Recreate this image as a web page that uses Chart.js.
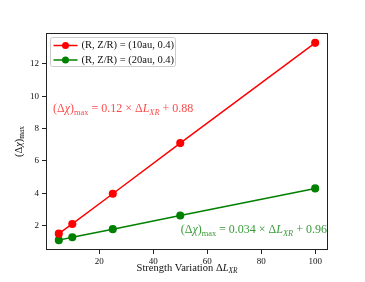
<!DOCTYPE html>
<html lang="en">
<head>
<meta charset="UTF-8">
<title>Strength variation</title>
<script src="https://cdn.jsdelivr.net/npm/chart.js"></script>
<style>
  body { margin: 0; background: #fff; }
  #wrap { width: 365px; height: 282px; }
</style>
</head>
<body>
<div id="wrap"><canvas id="chart" width="365" height="282"></canvas></div>
<script>
// data
var strength = [5, 10, 25, 50, 100];
var chi10au = [1.5, 2.1, 3.97, 7.1, 13.3];
var chi20au = [1.1, 1.28, 1.78, 2.62, 4.3];
var xTicks = [20, 40, 60, 80, 100];
var yTicks = [2, 4, 6, 8, 10, 12];
var seriesLabels = ['(R, Z/R) = (10au, 0.4)', '(R, Z/R) = (20au, 0.4)'];

var FONT = '"Liberation Serif", "DejaVu Serif", serif';

function toPoints(xs, ys) {
    return xs.map(function (x, i) { return { x: x, y: ys[i] }; });
}

// draw text made of pieces: [text, sub?, italic?]
function drawRich(ctx, parts, x, y, align, color, size) {
    ctx.save();
    ctx.fillStyle = color;
    ctx.textBaseline = 'middle';
    ctx.textAlign = 'left';
    var widths = parts.map(function (p) {
        ctx.font = (p[2] ? 'italic ' : '') + (p[1] ? size * 0.7 : size) + 'px ' + FONT;
        return ctx.measureText(p[0]).width;
    });
    var total = widths.reduce(function (a, b) { return a + b; }, 0);
    var cx = align === 'center' ? x - total / 2 : (align === 'right' ? x - total : x);
    parts.forEach(function (p, i) {
        ctx.font = (p[2] ? 'italic ' : '') + (p[1] ? size * 0.7 : size) + 'px ' + FONT;
        ctx.fillText(p[0], cx, p[1] ? y + size * 0.3 : y);
        cx += widths[i];
    });
    ctx.restore();
}

var extras = {
    id: 'extras',
    afterDraw: function (chart) {
        var ctx = chart.ctx;
        var a = chart.chartArea;
        // frame
        ctx.save();
        ctx.strokeStyle = '#222';
        ctx.lineWidth = 1;
        ctx.strokeRect(a.left + 0.5, a.top + 0.5, a.right - a.left - 1, a.bottom - a.top - 1);
        ctx.restore();

        // legend
        ctx.save();
        ctx.fillStyle = 'rgba(255,255,255,0.8)';
        ctx.strokeStyle = '#ccc';
        ctx.lineWidth = 1;
        var lx = a.left + 4.5, ly = a.top + 4.5;
        ctx.beginPath();
        ctx.roundRect(lx, ly, 125, 29, 2);
        ctx.fill();
        ctx.stroke();
        chart.data.datasets.forEach(function (ds, i) {
            var yy = ly + 8 + i * 14.5;
            ctx.strokeStyle = ds.borderColor;
            ctx.lineWidth = 1.5;
            ctx.beginPath();
            ctx.moveTo(lx + 3, yy);
            ctx.lineTo(lx + 27, yy);
            ctx.stroke();
            ctx.fillStyle = ds.backgroundColor;
            ctx.beginPath();
            ctx.arc(lx + 15, yy, 3.5, 0, Math.PI * 2);
            ctx.fill();
            ctx.fillStyle = '#111';
            ctx.font = '10.5px ' + FONT;
            ctx.textBaseline = 'middle';
            ctx.fillText(ds.label, lx + 31, yy);
        });
        ctx.restore();

        // fit annotations
        drawRich(ctx, [['(\u0394', 0, 0], ['\u03c7', 0, 1], [')', 0, 0], ['max', 1, 0],
            [' = 0.12 \u00d7 \u0394', 0, 0], ['L', 0, 1], ['XR', 1, 1], [' + 0.88', 0, 0]],
            a.left + 7, a.top + 76, 'left', '#ff4a4a', 12);
        drawRich(ctx, [['(\u0394', 0, 0], ['\u03c7', 0, 1], [')', 0, 0], ['max', 1, 0],
            [' = 0.034 \u00d7 \u0394', 0, 0], ['L', 0, 1], ['XR', 1, 1], [' + 0.96', 0, 0]],
            a.right - 1, a.bottom - 20, 'right', '#3a9a3a', 12);

        // axis titles
        drawRich(ctx, [['Strength Variation \u0394', 0, 0], ['L', 0, 1], ['XR', 1, 1]],
            (a.left + a.right) / 2, 268, 'center', '#111', 10.5);
        ctx.save();
        ctx.translate(19, (a.top + a.bottom) / 2);
        ctx.rotate(-Math.PI / 2);
        drawRich(ctx, [['(\u0394', 0, 0], ['\u03c7', 0, 1], [')', 0, 0], ['max', 1, 0]],
            0, 0, 'center', '#111', 10.5);
        ctx.restore();
    }
};

var ctx = document.getElementById('chart').getContext('2d');
var chart = new Chart(ctx, {
    type: 'scatter',
    data: {
        datasets: [{
            label: seriesLabels[0],
            data: toPoints(strength, chi10au),
            borderColor: '#ff0000',
            backgroundColor: '#ff0000',
            showLine: true,
            borderWidth: 1.5,
            pointRadius: 3.3,
            pointHoverRadius: 3.3
        }, {
            label: seriesLabels[1],
            data: toPoints(strength, chi20au),
            borderColor: '#008000',
            backgroundColor: '#008000',
            showLine: true,
            borderWidth: 1.5,
            pointRadius: 3.3,
            pointHoverRadius: 3.3
        }]
    },
    options: {
        responsive: false,
        animation: false,
        layout: { padding: { top: 33, right: 37, left: 0, bottom: 0 } },
        plugins: { legend: { display: false }, tooltip: { enabled: false } },
        scales: {
            x: {
                type: 'linear',
                min: 0.25,
                max: 104.75,
                afterBuildTicks: function (s) { s.ticks = xTicks.map(function (v) { return { value: v }; }); },
                afterFit: function (s) { s.height = 32; },
                grid: { display: true, drawOnChartArea: false, drawTicks: true, tickLength: 4, color: '#222' },
                border: { display: false },
                ticks: { color: '#111', font: { family: FONT, size: 9 }, padding: 2, maxRotation: 0 }
            },
            y: {
                min: 0.49,
                max: 13.91,
                afterBuildTicks: function (s) { s.ticks = yTicks.map(function (v) { return { value: v }; }); },
                afterFit: function (s) { s.width = 46; },
                grid: { display: true, drawOnChartArea: false, drawTicks: true, tickLength: 4, color: '#222' },
                border: { display: false },
                ticks: { color: '#111', font: { family: FONT, size: 9 }, padding: 3 }
            }
        }
    },
    plugins: [extras]
});
</script>
</body>
</html>
